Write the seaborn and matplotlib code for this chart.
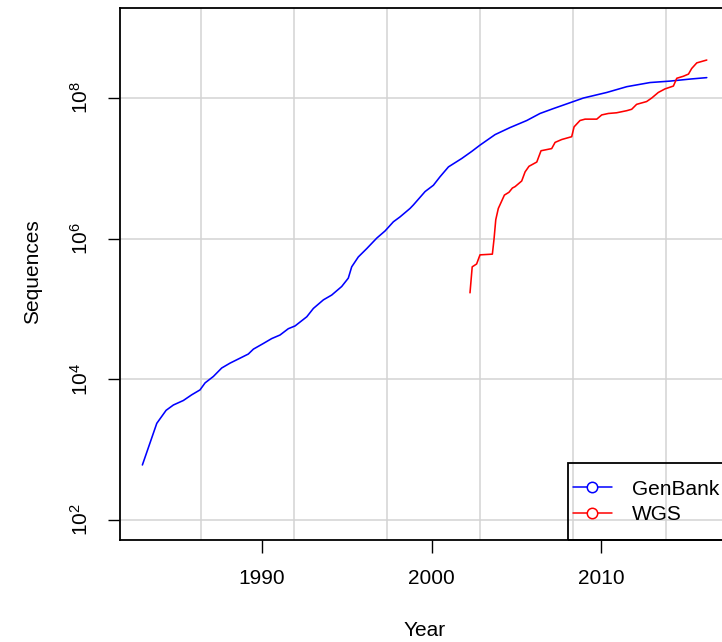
import matplotlib
matplotlib.use("Agg")
import matplotlib.pyplot as plt
from matplotlib.lines import Line2D
from matplotlib.patches import Rectangle
import numpy as np
import pandas as pd
import seaborn as sns

# ---------------- data ----------------
genbank_year = [1982.94, 1983.79, 1984.34, 1984.77, 1985.36, 1985.85, 1986.34, 1986.64,
                1987.13, 1987.62, 1988.11, 1988.70, 1989.19, 1989.49, 1990.08, 1990.57,
                1991.06, 1991.55, 1991.95, 1992.64, 1993.03, 1993.62, 1994.11, 1994.70,
                1995.09, 1995.29, 1995.68, 1996.18, 1996.77, 1997.26, 1997.75, 1998.14,
                1998.73, 1998.93, 1999.62, 2000.11, 2000.50, 2001.00, 2001.78, 2002.37,
                2002.86, 2003.75, 2004.63, 2005.62, 2006.40, 2007.19, 2008.37, 2008.96,
                2010.34, 2011.52, 2012.89, 2014.07, 2015.25, 2016.24]
genbank_seqs = [606, 2370, 3630, 4320, 5010, 6030, 7080, 8910,
                11000, 14500, 17000, 20000, 22900, 26900, 32400, 38000,
                42700, 52500, 57500, 77600, 102000, 135000, 158000, 209000,
                275000, 398000, 550000, 724000, 1020000, 1290000, 1740000, 2040000,
                2690000, 3020000, 4680000, 5750000, 7590000, 10500000, 13800000, 17400000,
                21400000, 30200000, 38000000, 47900000, 60300000, 70800000, 89100000, 100000000,
                120000000, 145000000, 166000000, 174000000, 186000000, 195000000]

wgs_year = [2002.27, 2002.40, 2002.66, 2002.86, 2003.59, 2003.69, 2003.79, 2003.94,
            2004.30, 2004.57, 2004.77, 2004.93, 2005.32, 2005.52, 2005.75, 2006.21,
            2006.46, 2007.09, 2007.29, 2007.68, 2008.27, 2008.41, 2008.76, 2009.06,
            2009.75, 2010.04, 2010.43, 2010.92, 2011.52, 2011.81, 2012.10, 2012.69,
            2012.99, 2013.38, 2013.78, 2014.27, 2014.47, 2014.86, 2015.16, 2015.35,
            2015.65, 2015.94, 2016.24]
wgs_seqs = [170000, 398000, 437000, 589000, 603000, 1000000, 1860000, 2690000,
            4170000, 4570000, 5250000, 5500000, 6610000, 8910000, 10700000, 12300000,
            17800000, 19100000, 23400000, 25700000, 28200000, 38900000, 47900000, 50100000,
            50100000, 57500000, 60300000, 61700000, 66100000, 69200000, 81300000, 89100000,
            100000000, 120000000, 135000000, 148000000, 191000000, 204000000, 219000000, 263000000,
            316000000, 331000000, 347000000]

series_names = ["GenBank", "WGS"]
series_colors = ["blue", "red"]
x_ticks = [1990, 2000, 2010]
y_ticks = [1e2, 1e4, 1e6, 1e8]
y_tick_labels = ["$10^{2}$", "$10^{4}$", "$10^{6}$", "$10^{8}$"]
# R grid() lines at axTicks of the Date axis: 6000..16000 days since 1970-01-01
grid_days = [6000, 8000, 10000, 12000, 14000, 16000]

# ---------------- build table ----------------
df = pd.concat([
    pd.DataFrame({"Year": genbank_year, "Sequences": genbank_seqs, "Database": "GenBank"}),
    pd.DataFrame({"Year": wgs_year, "Sequences": wgs_seqs, "Database": "WGS"}),
], ignore_index=True)

sns.set_style("white")
plt.rcParams["font.family"] = ["Liberation Sans", "DejaVu Sans"]
plt.rcParams["mathtext.default"] = "regular"
plt.rcParams["text.color"] = "black"
plt.rcParams["xtick.color"] = "black"
plt.rcParams["ytick.color"] = "black"
plt.rcParams["axes.labelcolor"] = "black"

W, H = 722, 642
fig = plt.figure(figsize=(W / 100, H / 100), dpi=100)
ax = fig.add_axes([120 / W, (H - 540) / H, 610 / W, 532 / H])

palette = dict(zip(series_names, series_colors))
sns.lineplot(data=df, x="Year", y="Sequences", hue="Database", palette=palette,
             estimator=None, sort=False, legend=False, linewidth=1.15, ax=ax, zorder=3)

ax.set_yscale("log")
ax.set_xlim(1981.62, 2017.61)
ax.set_ylim(10 ** 1.716, 10 ** 9.28)

# grid
for d in grid_days:
    ax.axvline(1970 + d / 365.25, color="#D3D3D3", lw=1.1, zorder=1)
for yv in y_ticks:
    ax.axhline(yv, color="#D3D3D3", lw=1.1, zorder=1)

ax.set_xticks(x_ticks)
ax.set_xticklabels([str(v) for v in x_ticks], fontsize=15, color="black")
ax.set_yticks(y_ticks)
ax.set_yticklabels(y_tick_labels, fontsize=15, rotation=90, va="center", color="black")
ax.yaxis.set_minor_locator(matplotlib.ticker.NullLocator())
ax.tick_params(axis="both", which="major", direction="out", length=9, width=1.0,
               color="black", left=True, bottom=True)
ax.tick_params(axis="x", pad=12)
ax.tick_params(axis="y", pad=11)
ax.set_xlabel("")
ax.set_ylabel("")
for s in ax.spines.values():
    s.set_color("black")
    s.set_linewidth(1.3)
    s.set_visible(True)

fig.text(33 / W, 1 - 272 / H, "Sequences", rotation=90, ha="center", va="center",
         fontsize=15, color="black")
fig.text(425 / W, 1 - 630 / H, "Year", ha="center", va="center", fontsize=15, color="black")

# legend (R style: transparent box, line + open circle)
box = Rectangle((568 / W, (H - 540) / H), 200 / W, 77 / H, transform=fig.transFigure,
                fill=False, edgecolor="black", linewidth=1.3, zorder=5)
fig.patches.append(box)
handles = [Line2D([], [], color=c, lw=1.1, marker="o", markersize=7.5,
                  markerfacecolor="white", markeredgecolor=c, markeredgewidth=1.1)
           for c in series_colors]
fig.legend(handles, series_names, loc="center left",
           bbox_to_anchor=(573 / W, 1 - 502 / H), bbox_transform=fig.transFigure,
           frameon=False, fontsize=15, borderpad=0, borderaxespad=0,
           handlelength=1.87, handletextpad=0.95, labelspacing=0.32, numpoints=1,
           labelcolor="black")

fig.savefig("out.png", dpi=100)
